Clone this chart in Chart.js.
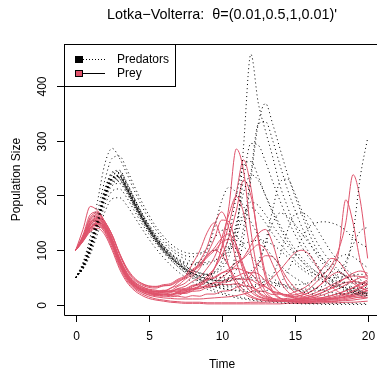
<!DOCTYPE html>
<html>
<head>
<meta charset="utf-8">
<script src="https://cdn.jsdelivr.net/npm/chart.js@4"></script>
<style>
  html, body { margin: 0; padding: 0; background: #fff; }
  #wrap { width: 377px; height: 371px; }
</style>
</head>
<body>
<div id="wrap"><canvas id="lv"></canvas></div>
<script>
const PREY_COLOR = '#DF536B';
const FONT = '"Liberation Sans", Arial, sans-serif';

const times = [0,0.5,1,1.5,2,2.5,3,3.5,4,4.5,5,5.5,6,6.5,7,7.5,8,8.5,9,9.5,10,
  10.5,11,11.5,12,12.5,13,13.5,14,14.5,15,15.5,16,16.5,17,17.5,18,18.5,19,19.5,20];
const xTicks = [0, 5, 10, 15, 20];
const yTicks = [0, 100, 200, 300, 400];

// predators (one per simulated run)
const pred01 = [50,70,105,152,200,232,236,216,190,165,142, 122,106,93,83,76,74,80,100,140,190, 215,205,180,152,128,106,88,73,60,50, 42,35,30,26,23,21,20,20,21,23];
const pred02 = [50,68,100,146,196,226,230,210,184,160,138, 118,101,87,75,65,58,54,54,60,80, 128,198,255,262,235,200,168,140,116,96, 79,65,54,45,37,31,26,22,19,17];
const pred03 = [50,71,106,154,202,233,236,214,188,162,140, 120,104,90,79,70,63,58,56,60,72, 100,148,205,238,228,200,172,146,123,103, 86,72,60,50,42,35,30,26,23,21];
const pred04 = [50,69,102,148,196,224,228,208,182,158,136, 116,99,85,73,62,53,46,41,38,38, 50,110,290,458,370,318,270,218,180,145, 118,95,75,58,46,36,29,23,18,15];
const pred05 = [50,72,108,157,207,238,240,218,192,166,143, 123,106,91,78,67,58,51,46,44,45, 50,64,122,230,330,368,330,285,240,200, 165,130,102,80,63,50,40,32,26,21];
const pred06 = [50,70,104,150,199,229,233,212,186,161,139, 119,102,88,76,66,58,52,48,47,52, 62,84,142,240,330,335,300,255,212,175, 142,115,92,73,58,46,37,30,24,20];
const pred07 = [50,74,112,162,212,243,246,224,196,169,145, 125,108,93,81,71,63,58,56,58,66, 88,142,230,295,292,262,225,190,158,130, 106,86,70,57,46,38,31,26,22,19];
const pred08 = [50,71,107,156,205,237,242,221,195,170,148, 129,114,101,91,84,79,77,78,82,88, 100,125,162,188,182,165,145,126,108,93, 80,69,60,53,47,43,41,40,40,41];
const pred09 = [50,67,98,142,190,218,222,204,179,155,134, 115,99,86,75,66,58,52,48,45,44, 44,46,52,62,80,112,150,168,162,148, 130,112,96,82,70,60,52,46,41,38];
const pred10 = [50,69,103,150,198,228,232,211,185,160,138, 118,101,87,75,64,55,48,42,38,36, 36,38,42,50,70,115,175,225,230,205, 172,142,116,95,78,64,53,45,39,34];
const pred11 = [50,75,115,170,228,268,272,248,218,190,165, 143,126,112,102,96,94,95,98,100,102, 104,108,112,116,118,116,110,100,88,76, 65,56,48,42,37,34,32,31,31,32];
const pred12 = [50,66,96,138,182,208,212,196,173,150,130, 112,96,82,70,59,50,43,37,33,30, 28,27,28,31,36,45,54,90,135,165, 168,160,140,118,97,80,66,55,46,40];
const pred13 = [50,70,105,153,201,231,235,214,188,163,141, 121,104,89,76,64,54,46,40,35,31, 28,26,25,24,24,26,30,40,60,90, 122,143,150,152,150,145,136,122,112,105];
const pred14 = [50,69,101,147,195,222,226,207,182,158,136, 116,98,83,70,59,49,41,34,28,23, 19,16,13,11,9,8,7,6,5,4, 4,3,3,3,3,3,3,3,3,3];
const pred15 = [50,65,92,130,170,194,196,182,162,141,121, 103,87,73,61,51,42,35,29,24,20, 16,13,11,9,7,6,5,4,3,3, 2,2,2,1,1,1,1,1,1,1];
const pred16 = [50,70,104,152,201,232,235,213,187,162,140, 120,103,88,75,64,55,47,41,37,34, 33,33,34,36,37,37,36,34,31,28, 26,25,26,28,32,38,70,130,235,305];
const pred17 = [50,69,103,150,199,230,234,213,187,162,140, 120,103,89,77,67,59,53,48,45,44, 45,47,49,50,49,46,42,38,34,31, 29,29,31,35,43,58,80,110,135,142];
const pred18 = [50,73,110,160,210,241,244,222,195,169,146, 126,109,95,83,73,65,59,55,52,50, 49,48,47,46,44,42,40,38,37,37, 38,41,47,58,72,86,92,88,78,68];
const pred19 = [50,70,104,151,200,232,237,216,190,165,143, 124,108,95,85,78,74,73,75,80,90, 108,138,168,178,168,150,130,112,96,82, 70,61,55,51,50,51,53,55,56,56];
const pred20 = [50,78,125,190,258,286,268,240,210,182,158, 137,120,106,96,90,88,92,104,122,136, 138,126,108,90,74,60,49,40,33,28, 24,21,19,18,18,19,21,24,27,30];

// prey (same runs)
const prey01 = [100,125,160,168,150,118,80,52,36,28,24, 22,26,30,41,52,75,99,132,150,120, 70,38,22,14,10,8,7,7,8,9, 11,14,18,24,31,40,50,58,62,58];
const prey02 = [100,118,145,158,148,122,84,55,38,29,24, 25,24,31,36,47,57,80,106,146,170, 140,80,42,24,15,11,9,8,8,9, 10,12,15,19,24,30,37,44,50,54];
const prey03 = [100,122,150,160,142,112,76,50,35,27,23, 21,24,26,34,40,53,67,93,121,155, 152,108,60,30,17,12,9,8,7,7, 8,9,11,14,17,21,26,32,39,46];
const prey04 = [100,120,140,148,136,110,74,48,32,24,19, 17,16,18,18,23,26,35,44,66,105, 180,285,245,135,58,25,12,8,6,5, 5,5,5,6,6,7,8,9,11,13];
const prey05 = [100,121,152,162,146,118,82,54,37,28,22, 19,19,18,22,23,30,35,49,67,102, 148,205,265,215,120,50,22,12,8,6, 5,5,6,6,7,8,10,12,15,18];
const prey06 = [100,124,148,154,140,114,78,51,35,26,21, 19,20,19,24,26,33,39,53,67,90, 124,172,228,200,125,58,26,13,9,7, 7,7,8,9,10,12,14,17,21,26];
const prey07 = [100,119,142,150,138,112,78,52,36,27,22, 21,23,24,30,34,43,51,67,87,122, 166,198,168,95,42,19,11,8,6,6, 6,6,7,8,9,10,12,15,18,22];
const prey08 = [100,128,165,170,152,126,92,64,46,37,32, 31,35,37,45,51,63,73,89,104,122, 130,110,72,40,22,14,10,9,9,10, 12,15,19,24,30,36,41,43,41,37];
const prey09 = [100,116,138,148,138,114,82,56,40,31,26, 24,27,24,29,28,35,37,46,49,58, 66,78,85,99,110,102,74,44,25,15, 11,9,9,10,12,15,19,24,30,38];
const prey10 = [100,123,150,158,144,118,84,56,39,30,25, 22,22,20,23,24,28,30,37,41,50, 60,73,87,109,130,138,112,68,38,23, 15,11,10,10,11,13,16,20,25,31];
const prey11 = [100,118,140,150,140,116,84,58,42,34,29, 27,24,26,25,29,29,33,34,40,42, 49,52,58,59,57,44,34,22,17,12, 11,11,12,14,17,21,26,31,37,43];
const prey12 = [100,120,146,154,142,116,82,54,37,28,22, 18,17,15,16,14,17,16,20,20,25, 26,32,40,55,75,90,88,70,48,32, 22,16,13,12,12,13,15,18,22,27];
const prey13 = [100,117,136,144,134,108,74,48,33,24,18, 15,13,12,11,11,11,11,12,13,14, 15,17,20,24,30,38,50,64,80,95, 100,92,72,50,34,24,18,15,14,14];
const prey14 = [100,119,141,146,132,104,70,45,30,21,15, 11,9,7,6,5,5,5,4,4,4, 4,4,4,5,5,5,6,6,7,7, 8,9,10,12,14,17,21,26,32,40];
const prey15 = [100,116,134,140,128,100,66,42,27,18,12, 9,7,5,4,3,3,3,2,2,2, 2,2,2,2,2,2,2,2,3,3, 3,3,3,4,4,4,5,5,6,7];
const prey16 = [100,121,146,156,144,118,82,54,37,28,22, 20,20,18,21,21,25,26,32,34,41, 43,48,47,46,38,33,25,22,17,19, 22,30,42,56,72,100,150,238,190,85];
const prey17 = [100,126,158,164,148,120,86,58,41,32,27, 25,26,25,29,30,36,39,47,51,59, 62,67,63,57,43,34,24,20,15,16, 18,23,31,44,62,95,192,150,80,50];
const prey18 = [100,118,141,152,142,118,86,60,43,34,28, 25,25,23,26,26,30,30,34,34,38, 37,39,35,33,26,24,19,20,19,24, 29,38,52,70,85,80,62,45,33,26];
const prey19 = [100,124,155,166,152,128,94,66,48,39,34, 33,35,36,43,49,61,71,87,99,114, 120,102,68,40,24,16,12,11,12,14, 18,23,31,42,54,60,52,40,31,26];
const prey20 = [100,138,180,172,152,128,95,68,50,40,35, 34,37,39,47,53,65,75,91,100,92, 70,45,27,17,11,9,8,8,9,11, 14,18,23,29,36,43,49,53,52,48];

const predRuns = [pred01,pred02,pred03,pred04,pred05,pred06,pred07,pred08,pred09,pred10,
  pred11,pred12,pred13,pred14,pred15,pred16,pred17,pred18,pred19,pred20];
const preyRuns = [prey01,prey02,prey03,prey04,prey05,prey06,prey07,prey08,prey09,prey10,
  prey11,prey12,prey13,prey14,prey15,prey16,prey17,prey18,prey19,prey20];

function toPoints(values) {
  return values.map((v, i) => ({ x: times[i], y: v }));
}

const datasets = [];
predRuns.forEach((run, i) => {
  datasets.push({
    label: 'Predators ' + (i + 1),
    data: toPoints(run),
    borderColor: '#000',
    borderWidth: 1,
    borderDash: [1, 3],
    pointRadius: 0,
    fill: false,
    cubicInterpolationMode: 'monotone',
  });
  datasets.push({
    label: 'Prey ' + (i + 1),
    data: toPoints(preyRuns[i]),
    borderColor: PREY_COLOR,
    borderWidth: 1,
    pointRadius: 0,
    fill: false,
    cubicInterpolationMode: 'monotone',
  });
});

// base-graphics style frame, axes, labels and legend
const rFrame = {
  id: 'rFrame',
  afterDraw(chart) {
    const { ctx, chartArea: a, scales: { x, y } } = chart;
    ctx.save();
    ctx.strokeStyle = '#000';
    ctx.lineWidth = 1;
    ctx.setLineDash([]);
    ctx.beginPath();
    ctx.moveTo(a.right + 2, a.top + 0.5);
    ctx.lineTo(a.left + 0.5, a.top + 0.5);
    ctx.lineTo(a.left + 0.5, a.bottom + 0.5);
    ctx.lineTo(a.right + 2, a.bottom + 0.5);
    ctx.stroke();

    ctx.fillStyle = '#000';
    ctx.font = '12px ' + FONT;
    ctx.textAlign = 'center';
    ctx.textBaseline = 'middle';
    xTicks.forEach(t => {
      const px = Math.round(x.getPixelForValue(t)) + 0.5;
      ctx.beginPath();
      ctx.moveTo(px, a.bottom);
      ctx.lineTo(px, a.bottom + 7);
      ctx.stroke();
      ctx.fillText(String(t), px, 337);
    });
    yTicks.forEach(t => {
      const py = Math.round(y.getPixelForValue(t)) + 0.5;
      ctx.beginPath();
      ctx.moveTo(a.left, py);
      ctx.lineTo(a.left - 7, py);
      ctx.stroke();
      ctx.save();
      ctx.translate(43, py);
      ctx.rotate(-Math.PI / 2);
      ctx.fillText(String(t), 0, 0);
      ctx.restore();
    });

    ctx.fillText('Time', (a.left + 380) / 2, 365);
    ctx.save();
    ctx.translate(17, (a.top + a.bottom) / 2);
    ctx.rotate(-Math.PI / 2);
    ctx.fillText('Population Size', 0, 0);
    ctx.restore();

    ctx.font = '14.4px ' + FONT;
    ctx.fillText('Lotka\u2212Volterra:  \u03b8=(0.01,0.5,1,0.01)\'', (a.left + 380) / 2, 15);

    // legend
    ctx.fillStyle = '#fff';
    ctx.fillRect(a.left + 0.5, a.top + 0.5, 111, 42);
    ctx.strokeRect(a.left + 0.5, a.top + 0.5, 111, 42);
    ctx.fillStyle = '#000';
    ctx.fillRect(75, 56, 8, 7);
    ctx.fillStyle = PREY_COLOR;
    ctx.fillRect(75.5, 70.5, 7, 6);
    ctx.strokeRect(75.5, 70.5, 7, 6);
    ctx.beginPath();
    ctx.setLineDash([1, 2]);
    ctx.moveTo(83, 59.5);
    ctx.lineTo(105, 59.5);
    ctx.stroke();
    ctx.setLineDash([]);
    ctx.beginPath();
    ctx.moveTo(83, 73.5);
    ctx.lineTo(105, 73.5);
    ctx.stroke();
    ctx.fillStyle = '#000';
    ctx.font = '12px ' + FONT;
    ctx.textAlign = 'left';
    ctx.fillText('Predators', 117, 59.5);
    ctx.fillText('Prey', 117, 74);
    ctx.restore();
  }
};

new Chart(document.getElementById('lv'), {
  type: 'line',
  data: { datasets },
  options: {
    responsive: true,
    maintainAspectRatio: false,
    animation: false,
    layout: { padding: { top: 44, left: 64, right: 0, bottom: 56 } },
    scales: {
      x: { type: 'linear', min: -0.8, max: 20.64, display: false },
      y: { type: 'linear', min: -18.3, max: 476.7, display: false },
    },
    plugins: {
      legend: { display: false },
      title: { display: false },
      tooltip: { enabled: false },
    },
  },
  plugins: [rFrame],
});
</script>
</body>
</html>
